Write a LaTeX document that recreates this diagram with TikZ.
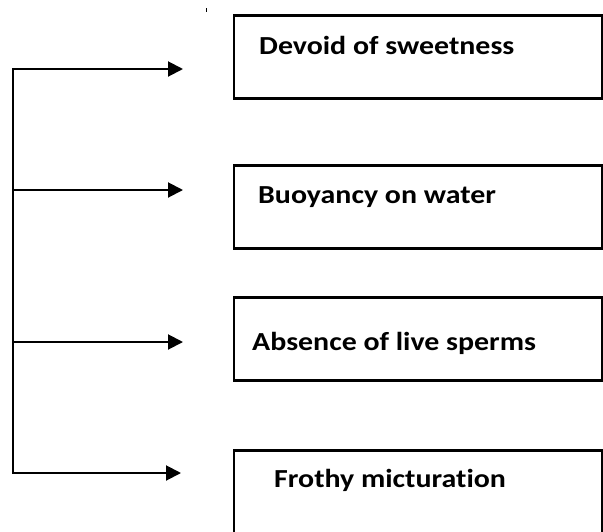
\documentclass[tikz,border=0pt]{standalone}
\usepackage{fontspec}
\newfontfamily\labelfont{Carlito}[FakeStretch=1.15, Ligatures=NoCommon]
\usetikzlibrary{arrows.meta}
\tikzstyle{box}=[rectangle, draw=black, line width=2.6pt, minimum width=368pt, minimum height=83pt, inner sep=0pt, anchor=north west]
\tikzstyle{annot}=[anchor=base west, inner sep=0pt, font=\labelfont\bfseries\fontsize{26}{30}\selectfont]
\tikzstyle{feed}=[line width=2pt, -{Triangle[length=15pt,width=15pt]}]

\begin{document}
\begin{tikzpicture}[x=1pt, y=-1pt]
	\useasboundingbox (0,0) rectangle (603,531);

	% boxes on the right
	\node[box](sweet) at (232.7,14){};
	\node[box](buoy) at (232.7,164){};
	\node[box](sperm) at (232.7,296){};
	\node[box](froth) at (232.7,449){};

	\node[annot](sweettext) at (259,54) {Devoid of sweetness};
	\node[annot](buoytext) at (258,203) {Buoyancy on water};
	\node[annot](spermtext) at (252,350) {Absence of live sperms};
	\node[annot](frothtext) at (274,487) {Frothy micturation};

	% trunk and branches
	\coordinate (t1) at (12.7,69);
	\coordinate (t2) at (12.7,190);
	\coordinate (t3) at (12.7,342);
	\coordinate (t4) at (12.7,473);
	\coordinate (tip1) at (183,69);
	\coordinate (tip2) at (183,190);
	\coordinate (tip3) at (183,342);
	\coordinate (tip4) at (181,473);

	\draw[line width=2.3pt, line cap=rect] (t1) -- (t4);
	\draw[feed] (t1) -- (tip1);
	\draw[feed] (t2) -- (tip2);
	\draw[feed] (t3) -- (tip3);
	\draw[feed] (t4) -- (tip4);

	% stray tick above the first box
	\fill (205.5,8) rectangle (207,11.5);
\end{tikzpicture}
\end{document}
